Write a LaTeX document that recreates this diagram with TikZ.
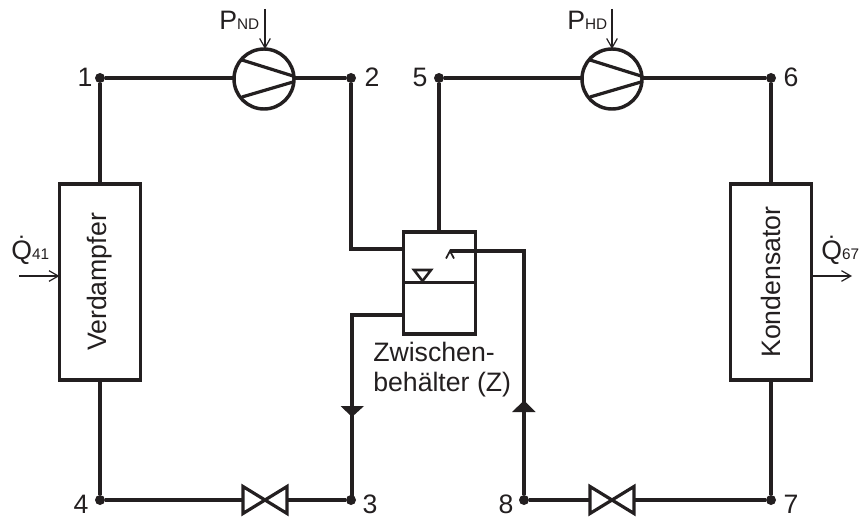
\documentclass[tikz,border=0pt]{standalone}
\usepackage{fontspec}
\setmainfont{Liberation Sans}
\usetikzlibrary{arrows.meta,calc}
\definecolor{ink}{HTML}{231F20}
\newcommand{\subt}[2]{#1{\fontsize{11.5}{13}\selectfont #2}}
\tikzset{
 every node/.style={text=ink},
 pipe/.style={draw=ink,line width=2.6pt,line join=miter},
 thin line/.style={draw=ink,line width=1.1pt,-{Straight Barb[length=7pt,width=8pt,line width=0.9pt]}},
 box/.style={draw=ink,line width=2.8pt,fill=white,rectangle,inner sep=0pt,outer sep=0pt},
 joint/.style={circle,fill=ink,inner sep=0pt,minimum size=7.5pt},
 lab/.style={font=\fontsize{20}{22}\selectfont,inner sep=0pt},
 comp/.style={circle,draw=ink,line width=2.6pt,fill=white,minimum size=45pt,inner sep=0pt,outer sep=0pt},
 tip/.style={fill=ink,draw=none},
}
\begin{document}
\begin{tikzpicture}[x=0.75pt,y=-0.75pt]
\useasboundingbox (0,0) rectangle (860,517);
% junctions
\node[joint] (n1) at (100,78) {};
\node[joint] (n2) at (351,78) {};
\node[joint] (n5) at (439,78) {};
\node[joint] (n6) at (771,78) {};
\node[joint] (n4) at (100,500) {};
\node[joint] (n3) at (351,500) {};
\node[joint] (n8) at (524,500) {};
\node[joint] (n7) at (771,500) {};
% components
\node[box,minimum width=60.75pt,minimum height=147pt] (verd) at (100,282) {};
\node[box,minimum width=60.75pt,minimum height=147pt] (kond) at (771,282) {};
\node[box,minimum width=54pt,minimum height=77pt] (tank) at (439.5,283) {};
\node[comp] (c1) at (264,79) {};
\node[comp] (c2) at (612,79) {};
\coordinate (v1) at (265,500);
\coordinate (v2) at (612,500);
\coordinate (tl1) at (tank.west |- 0,249);
\coordinate (tl2) at (tank.west |- 0,315);
\coordinate (k1) at (351,249);
\coordinate (k2) at (352,315);
\coordinate (k3) at (524,251);
\coordinate (inlet) at (450,251);
% pipes
\draw[pipe] (n1) -- (c1.west |- n1);
\draw[pipe] (c1.east |- n2) -- (n2);
\draw[pipe] (n5) -- (c2.west |- n5);
\draw[pipe] (c2.east |- n6) -- (n6);
\draw[pipe] (n1) -- (verd.north);
\draw[pipe] (verd.south) -- (n4);
\draw[pipe] (n6) -- (kond.north);
\draw[pipe] (kond.south) -- (n7);
\draw[pipe] (n4) -- ($(v1)+(-23,0)$);
\draw[pipe] ($(v1)+(23,0)$) -- (n3);
\draw[pipe] (n8) -- ($(v2)+(-23,0)$);
\draw[pipe] ($(v2)+(23,0)$) -- (n7);
\draw[pipe] (n2) -- (k1) -- (tl1);
\draw[pipe] (n5) -- (tank.north -| n5);
\draw[pipe] (tl2) -- (k2) -- (k2 |- n3);
\draw[pipe] (n8) -- (k3) -- (inlet);
% arrows on pipes
\fill[tip] (340.5,406) -- (364,406) -- (352,417) -- cycle;
\fill[tip] (512,412) -- (535.5,412) -- (524,400.5) -- cycle;
\draw[draw=ink,line width=1.3pt] (446,258.5) -- (450,251) -- (454,258.5);
% tank inner
\draw[draw=ink,line width=2.4pt] (tank.west |- 0,282.5) -- (tank.east |- 0,282.5);
\draw[draw=ink,line width=1.9pt,line join=miter,fill=white] (414,270) -- (431,270) -- (422.5,281) -- cycle;
% compressor blades
\foreach \c in {c1,c2}{
 \draw[draw=ink,line width=2.4pt] ($(\c)+(-22,-19)$) -- ($(\c)+(29,-3)$);
 \draw[draw=ink,line width=2.4pt] ($(\c)+(-22,18)$) -- ($(\c)+(29,3)$);
}
% valves
\foreach \v in {v1,v2}{
 \draw[draw=ink,line width=2.4pt,line join=miter] ($(\v)+(-22,-13.5)$) -- ($(\v)+(22,13.5)$) -- ($(\v)+(22,-13.5)$) -- ($(\v)+(-22,13.5)$) -- cycle;
}
% thin arrows
\coordinate (pa) at (265,9); \coordinate (pb) at (612,9);
\draw[thin line] (pa) -- (c1.north -| pa);
\draw[thin line] (pb) -- (c2.north -| pb);
\coordinate (qa) at (19,276); \coordinate (qb) at (852,276);
\draw[thin line] (qa) -- (verd.west |- qa);
\draw[thin line] (kond.east |- qb) -- (qb);
% labels
\node[lab,anchor=center] at (85,77) {1};
\node[lab,anchor=center] at (372,77) {2};
\node[lab,anchor=center] at (420,77) {5};
\node[lab,anchor=center] at (791,77) {6};
\node[lab,anchor=center] at (81,504) {4};
\node[lab,anchor=center] at (370,504) {3};
\node[lab,anchor=center] at (506,504) {8};
\node[lab,anchor=center] at (791,504) {7};
\node[lab,anchor=base west] at (219,30) {\subt{P}{ND}};
\node[lab,anchor=base west] at (567,30) {\subt{P}{HD}};
\node[lab,anchor=base west] at (11,259) {\subt{\.Q}{41}};
\node[lab,anchor=base west] at (821,259) {\subt{\.Q}{67}};
\node[lab,rotate=90] at (verd) {Verdampfer};
\node[lab,rotate=90] at (kond) {Kondensator};
\node[lab,anchor=base west,align=left] at (373,361) {Zwischen-};
\node[lab,anchor=base west,align=left] at (373,391) {behälter (Z)};
\end{tikzpicture}
\end{document}
